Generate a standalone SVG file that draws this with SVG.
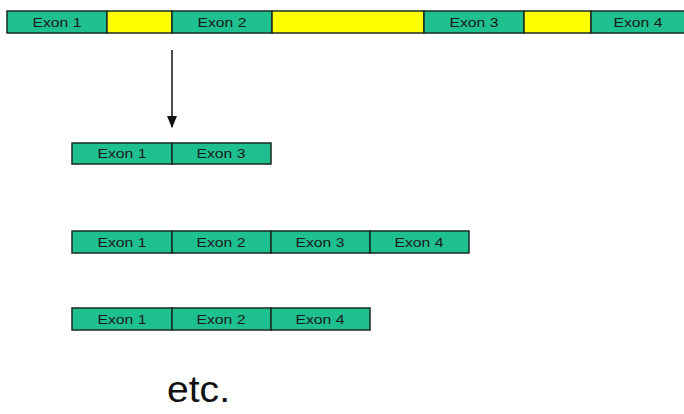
<svg xmlns="http://www.w3.org/2000/svg" width="684" height="414" viewBox="0 0 684 414">
<defs>
<style>
.ex{fill:#1fc08f;stroke:#1a2a22;stroke-width:1.5}
.in{fill:#ffff00;stroke:#1a2a22;stroke-width:1.5}
.lb{font-family:"Liberation Sans",Arial,sans-serif;font-size:13px;fill:#1a1a1a;text-anchor:middle}
.etc{font-family:"Liberation Sans",Arial,sans-serif;font-size:36px;fill:#111}
</style>
<marker id="ah" markerWidth="12" markerHeight="10" refX="11" refY="5" orient="auto" markerUnits="userSpaceOnUse" viewBox="0 0 12 10">
<path d="M0,0 L12,5 L0,10 Z" fill="#111"/>
</marker>
</defs>
<rect width="684" height="414" fill="#fff"/>
<g id="gene">
<rect class="ex" x="7" y="11" width="100" height="22"/>
<rect class="in" x="107" y="11" width="65" height="22"/>
<rect class="ex" x="172" y="11" width="100" height="22"/>
<rect class="in" x="272" y="11" width="152" height="22"/>
<rect class="ex" x="424" y="11" width="100" height="22"/>
<rect class="in" x="524" y="11" width="67" height="22"/>
<rect class="ex" x="591" y="11" width="100" height="22"/>
<text class="lb" x="57" y="26.5" textLength="49" lengthAdjust="spacingAndGlyphs">Exon 1</text>
<text class="lb" x="222" y="26.5" textLength="49" lengthAdjust="spacingAndGlyphs">Exon 2</text>
<text class="lb" x="474" y="26.5" textLength="49" lengthAdjust="spacingAndGlyphs">Exon 3</text>
<text class="lb" x="638" y="26.5" textLength="49" lengthAdjust="spacingAndGlyphs">Exon 4</text>
</g>
<g id="connectors">
<line x1="172" y1="50" x2="172" y2="127" stroke="#111" stroke-width="1.5" marker-end="url(#ah)"/>
</g>
<g id="variant1">
<rect class="ex" x="72" y="143" width="100" height="21"/>
<rect class="ex" x="172" y="143" width="99" height="21"/>
<text class="lb" x="122" y="158" textLength="49" lengthAdjust="spacingAndGlyphs">Exon 1</text>
<text class="lb" x="221" y="158" textLength="49" lengthAdjust="spacingAndGlyphs">Exon 3</text>
</g>
<g id="variant2">
<rect class="ex" x="72" y="231" width="100" height="22"/>
<rect class="ex" x="172" y="231" width="99" height="22"/>
<rect class="ex" x="271" y="231" width="99" height="22"/>
<rect class="ex" x="370" y="231" width="99" height="22"/>
<text class="lb" x="122" y="246.5" textLength="49" lengthAdjust="spacingAndGlyphs">Exon 1</text>
<text class="lb" x="221" y="246.5" textLength="49" lengthAdjust="spacingAndGlyphs">Exon 2</text>
<text class="lb" x="320" y="246.5" textLength="49" lengthAdjust="spacingAndGlyphs">Exon 3</text>
<text class="lb" x="419" y="246.5" textLength="49" lengthAdjust="spacingAndGlyphs">Exon 4</text>
</g>
<g id="variant3">
<rect class="ex" x="72" y="308" width="100" height="22"/>
<rect class="ex" x="172" y="308" width="99" height="22"/>
<rect class="ex" x="271" y="308" width="99" height="22"/>
<text class="lb" x="122" y="323.5" textLength="49" lengthAdjust="spacingAndGlyphs">Exon 1</text>
<text class="lb" x="221" y="323.5" textLength="49" lengthAdjust="spacingAndGlyphs">Exon 2</text>
<text class="lb" x="320" y="323.5" textLength="49" lengthAdjust="spacingAndGlyphs">Exon 4</text>
</g>
<g id="etc">
<text class="etc" x="167" y="402" textLength="63" lengthAdjust="spacingAndGlyphs">etc.</text>
</g>
</svg>
